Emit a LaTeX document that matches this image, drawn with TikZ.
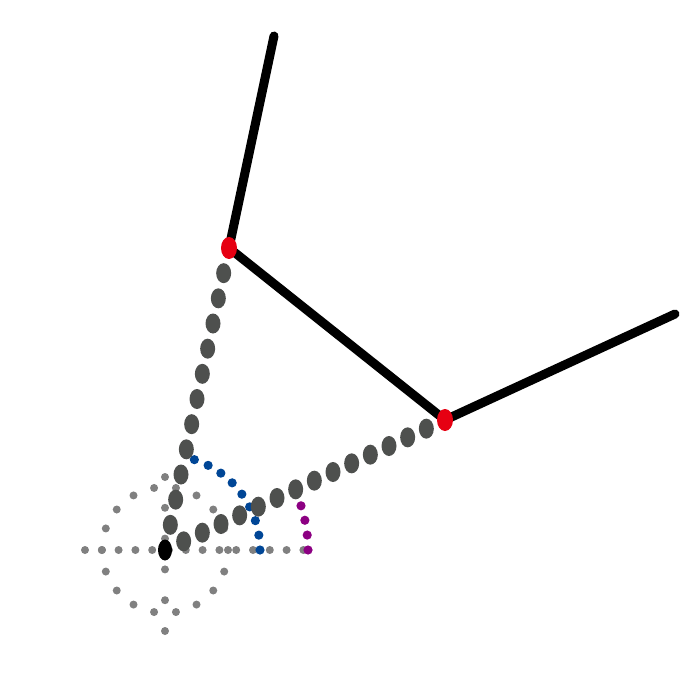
\documentclass[tikz,border=0pt]{standalone}
\usepackage{tikz}
\usetikzlibrary{calc}

\definecolor{jointred}{RGB}{230,0,18}
\definecolor{projgrey}{RGB}{78,80,78}
\definecolor{axisgrey}{RGB}{128,128,128}
\definecolor{anglblue}{RGB}{0,70,150}
\definecolor{anglpurple}{RGB}{140,0,130}

\begin{document}
\begin{tikzpicture}[x=1pt,y=-1pt,
    link/.style={line width=9pt,line cap=round,black},
    axisdot/.style={fill=axisgrey},
    projdot/.style={fill=projgrey},
    joint/.style={fill=jointred}]
  \useasboundingbox (0,0) rectangle (700,700);

  \coordinate (o) at (165,550);
  \coordinate (j1) at (229,248);
  \coordinate (j2) at (445,420);
  \coordinate (top) at (274,36);
  \coordinate (tip) at (675,314);

  % axes and base circle
  \begin{scope}
    \foreach \i in {0,...,13}
      \fill[axisdot] ($(85,550)+(\i*16.8,0)$) circle (4);
    \foreach \i in {0,...,5}
      \fill[axisdot] ($(165,477)+(0,\i*30.8)$) circle (4);
    \foreach \a in {0,20,...,340}
      \fill[axisdot] ($(o)+(\a:63)$) circle (4);
  \end{scope}

  % angle arcs
  \foreach \a in {0,9,...,72}
    \fill[anglblue] ($(o)+(-\a:95)$) circle (4.6);
  \foreach \a in {0,6,...,24}
    \fill[anglpurple] ($(o)+(-\a:143)$) circle (4.6);

  % projections to the joints
  \foreach \i in {1,...,11}
    \fill[projdot] ($(o)!\i/12!(j1)$) ellipse (7.5 and 10);
  \foreach \i in {1,...,14}
    \fill[projdot] ($(o)!\i/15!(j2)$) ellipse (7.5 and 10);

  % links
  \draw[link] (top) -- (j1) -- (j2) -- (tip);

  \fill[joint] (j1) ellipse (8 and 11);
  \fill[joint] (j2) ellipse (8 and 11);
  \fill[black] (o) ellipse (7 and 10.5);

\end{tikzpicture}
\end{document}
